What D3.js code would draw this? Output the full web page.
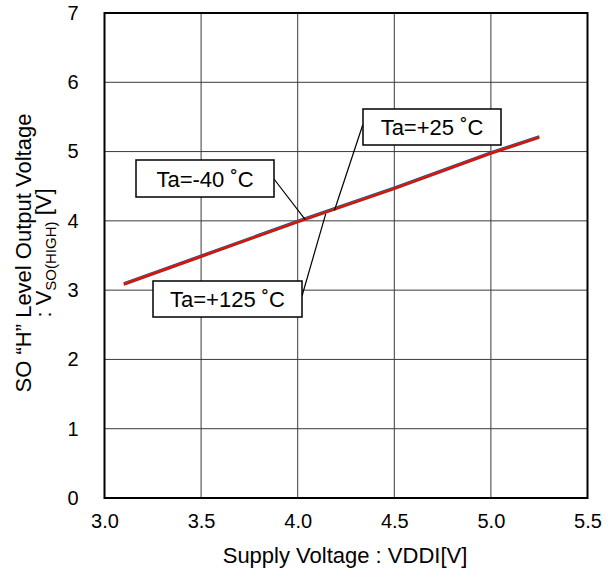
<!DOCTYPE html>
<html>
<head>
<meta charset="utf-8">
<script src="https://cdn.jsdelivr.net/npm/d3@7"></script>
<style>
  html, body { margin: 0; padding: 0; background: #fff; }
  svg { display: block; font-family: "Liberation Sans", Arial, sans-serif; }
</style>
</head>
<body>
<svg id="chart" width="614" height="574"></svg>
<script>
// ---- data ----
const supplyVoltage = [3.1, 3.5, 4.0, 4.5, 5.0, 5.25];
const vMinus40 = [3.10, 3.50, 4.00, 4.48, 4.99, 5.22];
const vPlus25  = [3.09, 3.49, 3.99, 4.47, 4.98, 5.21];
const vPlus125 = [3.08, 3.48, 3.98, 4.46, 4.97, 5.20];
const xTicks = [3.0, 3.5, 4.0, 4.5, 5.0, 5.5];
const yTicks = [0, 1, 2, 3, 4, 5, 6, 7];
const seriesNames = ["Ta=-40 ˚C", "Ta=+25 ˚C", "Ta=+125 ˚C"];

const svg = d3.select("#chart");
const pLeft = 104.5, pRight = 587.5, pTop = 13, pBottom = 498;

const x = d3.scaleLinear().domain([3.0, 5.5]).range([pLeft, pRight]);
const y = d3.scaleLinear().domain([0, 7]).range([pBottom, pTop]);

// grid
svg.append("g").selectAll("line").data(xTicks.slice(1, -1)).join("line")
  .attr("x1", d => x(d)).attr("x2", d => x(d))
  .attr("y1", pTop).attr("y2", pBottom)
  .attr("stroke", "#3a3a3a").attr("stroke-width", 1);
svg.append("g").selectAll("line").data(yTicks.slice(1, -1)).join("line")
  .attr("y1", d => y(d)).attr("y2", d => y(d))
  .attr("x1", pLeft).attr("x2", pRight)
  .attr("stroke", "#3a3a3a").attr("stroke-width", 1);

// axes (labels only)
const xAxis = d3.axisBottom(x).tickValues(xTicks).tickFormat(d3.format(".1f")).tickSize(0).tickPadding(16);
const gx = svg.append("g").attr("transform", `translate(0,${pBottom})`).call(xAxis);
gx.select(".domain").remove();
gx.selectAll("text").attr("font-size", 20).attr("fill", "#000")
  .attr("font-family", "Liberation Sans, Arial, sans-serif");

const yAxis = d3.axisLeft(y).tickValues(yTicks).tickFormat(d3.format("d")).tickSize(0).tickPadding(26);
const gy = svg.append("g").attr("transform", `translate(${pLeft},0)`).call(yAxis);
gy.select(".domain").remove();
gy.selectAll("text").attr("font-size", 20).attr("fill", "#000")
  .attr("font-family", "Liberation Sans, Arial, sans-serif");

// frame
svg.append("rect").attr("x", pLeft).attr("y", pTop)
  .attr("width", pRight - pLeft).attr("height", pBottom - pTop)
  .attr("fill", "none").attr("stroke", "#000").attr("stroke-width", 2);

// lines
const series = [
  { name: seriesNames[0], values: vMinus40, color: "#1f3fa8" },
  { name: seriesNames[1], values: vPlus25, color: "#1e8a2e" },
  { name: seriesNames[2], values: vPlus125, color: "#ff0000" }
];
const line = d3.line().x(d => x(d[0])).y(d => y(d[1]));
svg.append("g").selectAll("path").data(series).join("path")
  .attr("d", s => line(supplyVoltage.map((v, i) => [v, s.values[i]])))
  .attr("fill", "none").attr("stroke", s => s.color).attr("stroke-width", 2.2);

// annotations
const ann = [
  { text: seriesNames[0], box: [136, 160, 138, 37], from: [274, 179], to: [4.038, 4.02] },
  { text: seriesNames[1], box: [363, 109, 138, 36], from: [362.7, 125], to: [4.19, 4.15] },
  { text: seriesNames[2], box: [153, 281, 149, 36], from: [302, 296], to: [4.145, 4.1] }
];
const ga = svg.append("g");
ann.forEach(a => {
  ga.append("line").attr("x1", a.from[0]).attr("y1", a.from[1])
    .attr("x2", x(a.to[0])).attr("y2", y(a.to[1]))
    .attr("stroke", "#000").attr("stroke-width", 1.2);
  ga.append("rect").attr("x", a.box[0]).attr("y", a.box[1])
    .attr("width", a.box[2]).attr("height", a.box[3])
    .attr("fill", "#fff").attr("stroke", "#000").attr("stroke-width", 1.5);
  ga.append("text").attr("x", a.box[0] + a.box[2] / 2).attr("y", a.box[1] + a.box[3] / 2 + 8)
    .attr("text-anchor", "middle").attr("font-size", 22).text(a.text);
});

// axis titles
svg.append("text").attr("x", (pLeft + pRight) / 2 - 1).attr("y", 563)
  .attr("text-anchor", "middle").attr("font-size", 22)
  .text("Supply Voltage : VDDI[V]");

const yt = svg.append("g").attr("transform", "translate(0,253) rotate(-90)");
yt.append("text").attr("x", 0).attr("y", 31).attr("text-anchor", "middle")
  .attr("font-size", 22).text("SO “H” Level Output Voltage");
const t2 = yt.append("text").attr("x", 0).attr("y", 51).attr("text-anchor", "middle")
  .attr("font-size", 22);
t2.append("tspan").text(": V");
t2.append("tspan").attr("font-size", 15).attr("dy", 5).text("SO(HIGH)");
t2.append("tspan").attr("dy", -5).text(" [V]");
</script>
</body>
</html>
